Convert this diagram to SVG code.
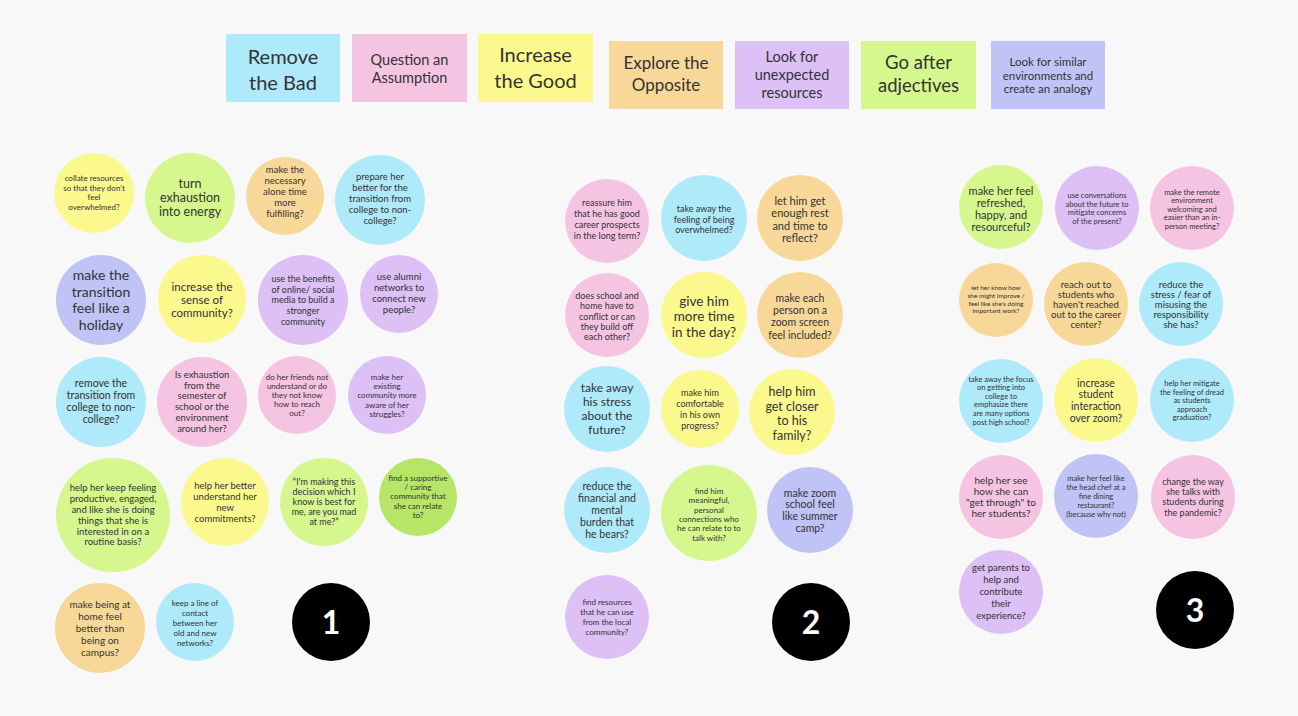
<svg xmlns="http://www.w3.org/2000/svg" width="1298" height="716" viewBox="0 0 1298 716">
<style>
.t{font-family:Lato,"Open Sans","Liberation Sans",sans-serif;fill:#333;text-anchor:middle}
.n{font-family:Lato,"Liberation Sans",sans-serif;fill:#fff;font-weight:bold;text-anchor:middle;font-size:32px}
.cy{fill:#aeeafa}.pk{fill:#f6c4e3}.ye{fill:#fbf98e}.or{fill:#f8d898}.pu{fill:#dcc0f6}.gr{fill:#d5f78e}.dg{fill:#b6e567}.bl{fill:#c0c3f5}.bk{fill:#000}
</style>
<rect width="1298" height="716" fill="#f8f8f8"/>
<g id="legend">
<g id="h1"><rect class="cy" x="226" y="34" width="114" height="68"/><text class="t" x="283" y="64" font-size="20">Remove<tspan x="283" dy="26">the Bad</tspan></text></g>
<g id="h2"><rect class="pk" x="352" y="34" width="115" height="68"/><text class="t" x="409.5" y="65" font-size="14.5">Question an<tspan x="409.5" dy="18">Assumption</tspan></text></g>
<g id="h3"><rect class="ye" x="478" y="34" width="115" height="68"/><text class="t" x="535.5" y="62" font-size="20">Increase<tspan x="535.5" dy="26">the Good</tspan></text></g>
<g id="h4"><rect class="or" x="609" y="41" width="114" height="68"/><text class="t" x="666" y="69" font-size="17">Explore the<tspan x="666" dy="22">Opposite</tspan></text></g>
<g id="h5"><rect class="pu" x="735" y="41" width="114" height="68"/><text class="t" x="792" y="62" font-size="14.5">Look for<tspan x="792" dy="18">unexpected</tspan><tspan x="792" dy="18">resources</tspan></text></g>
<g id="h6"><rect class="gr" x="861" y="41" width="115" height="68"/><text class="t" x="918.5" y="69" font-size="18.5">Go after<tspan x="918.5" dy="23">adjectives</tspan></text></g>
<g id="h7"><rect class="bl" x="991" y="41" width="114" height="68"/><text class="t" x="1048" y="66" font-size="11.5">Look for similar<tspan x="1048" dy="13.5">environments and</tspan><tspan x="1048" dy="13.5">create an analogy</tspan></text></g>
</g>
<g id="connectors"/>
<g id="column1">
<g id="n1a"><circle class="ye" cx="94" cy="193" r="40"/><text class="t" x="94" y="181" font-size="8">collate resources<tspan x="94" dy="9.5">so that they don't</tspan><tspan x="94" dy="9.5">feel</tspan><tspan x="94" dy="9.5">overwhelmed?</tspan></text></g>
<g id="n1b"><circle class="gr" cx="190" cy="198" r="45"/><text class="t" x="190" y="188.4" font-size="12.5">turn<tspan x="190" dy="14">exhaustion</tspan><tspan x="190" dy="14">into energy</tspan></text></g>
<g id="n1c"><circle class="or" cx="285" cy="196" r="39"/><text class="t" x="285" y="173" font-size="9.5">make the<tspan x="285" dy="11">necessary</tspan><tspan x="285" dy="11">alone time</tspan><tspan x="285" dy="11">more</tspan><tspan x="285" dy="11">fulfilling?</tspan></text></g>
<g id="n1d"><circle class="cy" cx="380" cy="200" r="45"/><text class="t" x="380" y="179.8" font-size="9.5">prepare her<tspan x="380" dy="11">better for the</tspan><tspan x="380" dy="11">transition from</tspan><tspan x="380" dy="11">college to non-</tspan><tspan x="380" dy="11">college?</tspan></text></g>
<g id="n1e"><circle class="bl" cx="101" cy="300" r="45"/><text class="t" x="101" y="279.9" font-size="14">make the<tspan x="101" dy="16.7">transition</tspan><tspan x="101" dy="16.7">feel like a</tspan><tspan x="101" dy="16.7">holiday</tspan></text></g>
<g id="n1f"><circle class="ye" cx="202" cy="299" r="44"/><text class="t" x="202" y="291" font-size="11.5">increase the<tspan x="202" dy="13">sense of</tspan><tspan x="202" dy="13">community?</tspan></text></g>
<g id="n1g"><circle class="pu" cx="303" cy="300" r="45"/><text class="t" x="303" y="281.8" font-size="9">use the benefits<tspan x="303" dy="10.7">of online/ social</tspan><tspan x="303" dy="10.7">media to build a</tspan><tspan x="303" dy="10.7">stronger</tspan><tspan x="303" dy="10.7">community</tspan></text></g>
<g id="n1h"><circle class="pu" cx="399" cy="294" r="39"/><text class="t" x="399" y="280.3" font-size="9.5">use alumni<tspan x="399" dy="11">networks to</tspan><tspan x="399" dy="11">connect new</tspan><tspan x="399" dy="11">people?</tspan></text></g>
<g id="n1i"><circle class="cy" cx="101" cy="402" r="45"/><text class="t" x="101" y="386.7" font-size="10.5">remove the<tspan x="101" dy="12">transition from</tspan><tspan x="101" dy="12">college to non-</tspan><tspan x="101" dy="12">college?</tspan></text></g>
<g id="n1j"><circle class="pk" cx="202" cy="402" r="45"/><text class="t" x="202" y="378" font-size="9.5">Is exhaustion<tspan x="202" dy="10.7">from the</tspan><tspan x="202" dy="10.7">semester of</tspan><tspan x="202" dy="10.7">school or the</tspan><tspan x="202" dy="10.7">environment</tspan><tspan x="202" dy="10.7">around her?</tspan></text></g>
<g id="n1k"><circle class="pk" cx="297" cy="395" r="39"/><text class="t" x="297" y="379.8" font-size="8">do her friends not<tspan x="297" dy="9">understand or do</tspan><tspan x="297" dy="9">they not know</tspan><tspan x="297" dy="9">how to reach</tspan><tspan x="297" dy="9">out?</tspan></text></g>
<g id="n1l"><circle class="pu" cx="387" cy="395" r="39"/><text class="t" x="387" y="379.7" font-size="8">make her<tspan x="387" dy="9.3">existing</tspan><tspan x="387" dy="9.3">community more</tspan><tspan x="387" dy="9.3">aware of her</tspan><tspan x="387" dy="9.3">struggles?</tspan></text></g>
<g id="n1m"><circle class="gr" cx="113" cy="515" r="57"/><text class="t" x="113" y="491.3" font-size="9.5">help her keep feeling<tspan x="113" dy="10.8">productive, engaged,</tspan><tspan x="113" dy="10.8">and like she is doing</tspan><tspan x="113" dy="10.8">things that she is</tspan><tspan x="113" dy="10.8">interested in on a</tspan><tspan x="113" dy="10.8">routine basis?</tspan></text></g>
<g id="n1n"><circle class="ye" cx="225" cy="502" r="44"/><text class="t" x="225" y="488.8" font-size="9.5">help her better<tspan x="225" dy="11">understand her</tspan><tspan x="225" dy="11">new</tspan><tspan x="225" dy="11">commitments?</tspan></text></g>
<g id="n1o"><circle class="gr" cx="324" cy="502" r="44"/><text class="t" x="324" y="485.2" font-size="9">“I'm making this<tspan x="324" dy="10">decision which I</tspan><tspan x="324" dy="10">know is best for</tspan><tspan x="324" dy="10">me, are you mad</tspan><tspan x="324" dy="10">at me?”</tspan></text></g>
<g id="n1p"><circle class="dg" cx="418" cy="497" r="39"/><text class="t" x="418" y="480.9" font-size="8">find a supportive<tspan x="418" dy="9.2">/ caring</tspan><tspan x="418" dy="9.2">community that</tspan><tspan x="418" dy="9.2">she can relate</tspan><tspan x="418" dy="9.2">to?</tspan></text></g>
<g id="n1q"><circle class="or" cx="100" cy="628" r="45"/><text class="t" x="100" y="607.6" font-size="10">make being at<tspan x="100" dy="12.2">home feel</tspan><tspan x="100" dy="12.2">better than</tspan><tspan x="100" dy="12.2">being on</tspan><tspan x="100" dy="12.2">campus?</tspan></text></g>
<g id="n1r"><circle class="cy" cx="195" cy="622" r="39"/><text class="t" x="195" y="605.8" font-size="8">keep a line of<tspan x="195" dy="10">contact</tspan><tspan x="195" dy="10">between her</tspan><tspan x="195" dy="10">old and new</tspan><tspan x="195" dy="10">networks?</tspan></text></g>
<g id="num1"><circle class="bk" cx="331" cy="622" r="39"/><text class="n" x="331" y="634">1</text></g>
</g>
<g id="column2">
<g id="n2a"><circle class="pk" cx="607" cy="221" r="42"/><text class="t" x="607" y="206.2" font-size="9">reassure him<tspan x="607" dy="11">that he has good</tspan><tspan x="607" dy="11">career prospects</tspan><tspan x="607" dy="11">in the long term?</tspan></text></g>
<g id="n2b"><circle class="cy" cx="704" cy="218" r="43"/><text class="t" x="704" y="212.2" font-size="9">take away the<tspan x="704" dy="10.5">feeling of being</tspan><tspan x="704" dy="10.5">overwhelmed?</tspan></text></g>
<g id="n2c"><circle class="or" cx="800" cy="218" r="43"/><text class="t" x="800" y="204.8" font-size="11">let him get<tspan x="800" dy="12.4">enough rest</tspan><tspan x="800" dy="12.4">and time to</tspan><tspan x="800" dy="12.4">reflect?</tspan></text></g>
<g id="n2d"><circle class="pk" cx="607" cy="315" r="42"/><text class="t" x="607" y="299.1" font-size="9">does school and<tspan x="607" dy="10.3">home have to</tspan><tspan x="607" dy="10.3">conflict or can</tspan><tspan x="607" dy="10.3">they build off</tspan><tspan x="607" dy="10.3">each other?</tspan></text></g>
<g id="n2e"><circle class="ye" cx="704" cy="315" r="43"/><text class="t" x="704" y="305.7" font-size="13.5">give him<tspan x="704" dy="15.5">more time</tspan><tspan x="704" dy="15.5">in the day?</tspan></text></g>
<g id="n2f"><circle class="or" cx="800" cy="315" r="43"/><text class="t" x="800" y="301.8" font-size="10.5">make each<tspan x="800" dy="12.3">person on a</tspan><tspan x="800" dy="12.3">zoom screen</tspan><tspan x="800" dy="12.3">feel included?</tspan></text></g>
<g id="n2g"><circle class="cy" cx="607" cy="409" r="43"/><text class="t" x="607" y="392.2" font-size="12">take away<tspan x="607" dy="14">his stress</tspan><tspan x="607" dy="14">about the</tspan><tspan x="607" dy="14">future?</tspan></text></g>
<g id="n2h"><circle class="ye" cx="700" cy="409" r="39"/><text class="t" x="700" y="396.2" font-size="9">make him<tspan x="700" dy="11">comfortable</tspan><tspan x="700" dy="11">in his own</tspan><tspan x="700" dy="11">progress?</tspan></text></g>
<g id="n2i"><circle class="ye" cx="792" cy="412" r="43"/><text class="t" x="792" y="396.2" font-size="12.5">help him<tspan x="792" dy="14.5">get closer</tspan><tspan x="792" dy="14.5">to his</tspan><tspan x="792" dy="14.5">family?</tspan></text></g>
<g id="n2j"><circle class="cy" cx="607" cy="510" r="43"/><text class="t" x="607" y="489.7" font-size="10.5">reduce the<tspan x="607" dy="12">financial and</tspan><tspan x="607" dy="12">mental</tspan><tspan x="607" dy="12">burden that</tspan><tspan x="607" dy="12">he bears?</tspan></text></g>
<g id="n2k"><circle class="gr" cx="709" cy="513" r="48"/><text class="t" x="709" y="493.8" font-size="8">find him<tspan x="709" dy="9.4">meaningful,</tspan><tspan x="709" dy="9.4">personal</tspan><tspan x="709" dy="9.4">connections who</tspan><tspan x="709" dy="9.4">he can relate to to</tspan><tspan x="709" dy="9.4">talk with?</tspan></text></g>
<g id="n2l"><circle class="bl" cx="810" cy="510" r="43"/><text class="t" x="810" y="496.6" font-size="10.5">make zoom<tspan x="810" dy="11.7">school feel</tspan><tspan x="810" dy="11.7">like summer</tspan><tspan x="810" dy="11.7">camp?</tspan></text></g>
<g id="n2m"><circle class="pu" cx="607" cy="617" r="42"/><text class="t" x="607" y="605.3" font-size="8">find resources<tspan x="607" dy="10">that he can use</tspan><tspan x="607" dy="10">from the local</tspan><tspan x="607" dy="10">community?</tspan></text></g>
<g id="num2"><circle class="bk" cx="811" cy="622" r="39"/><text class="n" x="811" y="634">2</text></g>
</g>
<g id="column3">
<g id="n3a"><circle class="gr" cx="1001" cy="207" r="42"/><text class="t" x="1001" y="194.9" font-size="11">make her feel<tspan x="1001" dy="12">refreshed,</tspan><tspan x="1001" dy="12">happy, and</tspan><tspan x="1001" dy="12">resourceful?</tspan></text></g>
<g id="n3b"><circle class="pu" cx="1097" cy="208" r="42"/><text class="t" x="1097" y="198.4" font-size="7.5">use conversations<tspan x="1097" dy="8.5">about the future to</tspan><tspan x="1097" dy="8.5">mitigate concerns</tspan><tspan x="1097" dy="8.5">of the present?</tspan></text></g>
<g id="n3c"><circle class="pk" cx="1192" cy="208" r="42"/><text class="t" x="1192" y="194.6" font-size="7.5">make the remote<tspan x="1192" dy="8.5">environment</tspan><tspan x="1192" dy="8.5">welcoming and</tspan><tspan x="1192" dy="8.5">easier than an in-</tspan><tspan x="1192" dy="8.5">person meeting?</tspan></text></g>
<g id="n3d"><circle class="or" cx="996" cy="300" r="37"/><text class="t" x="996" y="290.3" font-size="6.5">let her know how<tspan x="996" dy="7.7">she might improve /</tspan><tspan x="996" dy="7.7">feel like she's doing</tspan><tspan x="996" dy="7.7">important work?</tspan></text></g>
<g id="n3e"><circle class="or" cx="1086" cy="304" r="42"/><text class="t" x="1086" y="288.3" font-size="9.5">reach out to<tspan x="1086" dy="10">students who</tspan><tspan x="1086" dy="10">haven't reached</tspan><tspan x="1086" dy="10">out to the career</tspan><tspan x="1086" dy="10">center?</tspan></text></g>
<g id="n3f"><circle class="cy" cx="1181" cy="304" r="42"/><text class="t" x="1181" y="288.3" font-size="9.5">reduce the<tspan x="1181" dy="10">stress / fear of</tspan><tspan x="1181" dy="10">misusing the</tspan><tspan x="1181" dy="10">responsibility</tspan><tspan x="1181" dy="10">she has?</tspan></text></g>
<g id="n3g"><circle class="cy" cx="1001" cy="401" r="42"/><text class="t" x="1001" y="381.6" font-size="7.5">take away the focus<tspan x="1001" dy="8.6">on getting into</tspan><tspan x="1001" dy="8.6">college to</tspan><tspan x="1001" dy="8.6">emphasize there</tspan><tspan x="1001" dy="8.6">are many options</tspan><tspan x="1001" dy="8.6">post high school?</tspan></text></g>
<g id="n3h"><circle class="ye" cx="1096" cy="400" r="42"/><text class="t" x="1096" y="386.5" font-size="10.5">increase<tspan x="1096" dy="11.8">student</tspan><tspan x="1096" dy="11.8">interaction</tspan><tspan x="1096" dy="11.8">over zoom?</tspan></text></g>
<g id="n3i"><circle class="cy" cx="1192" cy="400" r="42"/><text class="t" x="1192" y="385.9" font-size="7.5">help her mitigate<tspan x="1192" dy="8.6">the feeling of dread</tspan><tspan x="1192" dy="8.6">as students</tspan><tspan x="1192" dy="8.6">approach</tspan><tspan x="1192" dy="8.6">graduation?</tspan></text></g>
<g id="n3j"><circle class="pk" cx="1001" cy="497" r="42"/><text class="t" x="1001" y="483.5" font-size="10">help her see<tspan x="1001" dy="11">how she can</tspan><tspan x="1001" dy="11">"get through" to</tspan><tspan x="1001" dy="11">her students?</tspan></text></g>
<g id="n3k"><circle class="bl" cx="1096" cy="496" r="42"/><text class="t" x="1096" y="480.6" font-size="7.5">make her feel like<tspan x="1096" dy="9">the head chef at a</tspan><tspan x="1096" dy="9">fine dining</tspan><tspan x="1096" dy="9">restaurant?</tspan><tspan x="1096" dy="9">(because why not)</tspan></text></g>
<g id="n3l"><circle class="pk" cx="1193" cy="497" r="42"/><text class="t" x="1193" y="484.7" font-size="9">change the way<tspan x="1193" dy="10.3">she talks with</tspan><tspan x="1193" dy="10.3">students during</tspan><tspan x="1193" dy="10.3">the pandemic?</tspan></text></g>
<g id="n3m"><circle class="pu" cx="1001" cy="592" r="42"/><text class="t" x="1001" y="571.3" font-size="9.5">get parents to<tspan x="1001" dy="12">help and</tspan><tspan x="1001" dy="12">contribute</tspan><tspan x="1001" dy="12">their</tspan><tspan x="1001" dy="12">experience?</tspan></text></g>
<g id="num3"><circle class="bk" cx="1195" cy="610" r="39"/><text class="n" x="1195" y="622">3</text></g>
</g>
</svg>
